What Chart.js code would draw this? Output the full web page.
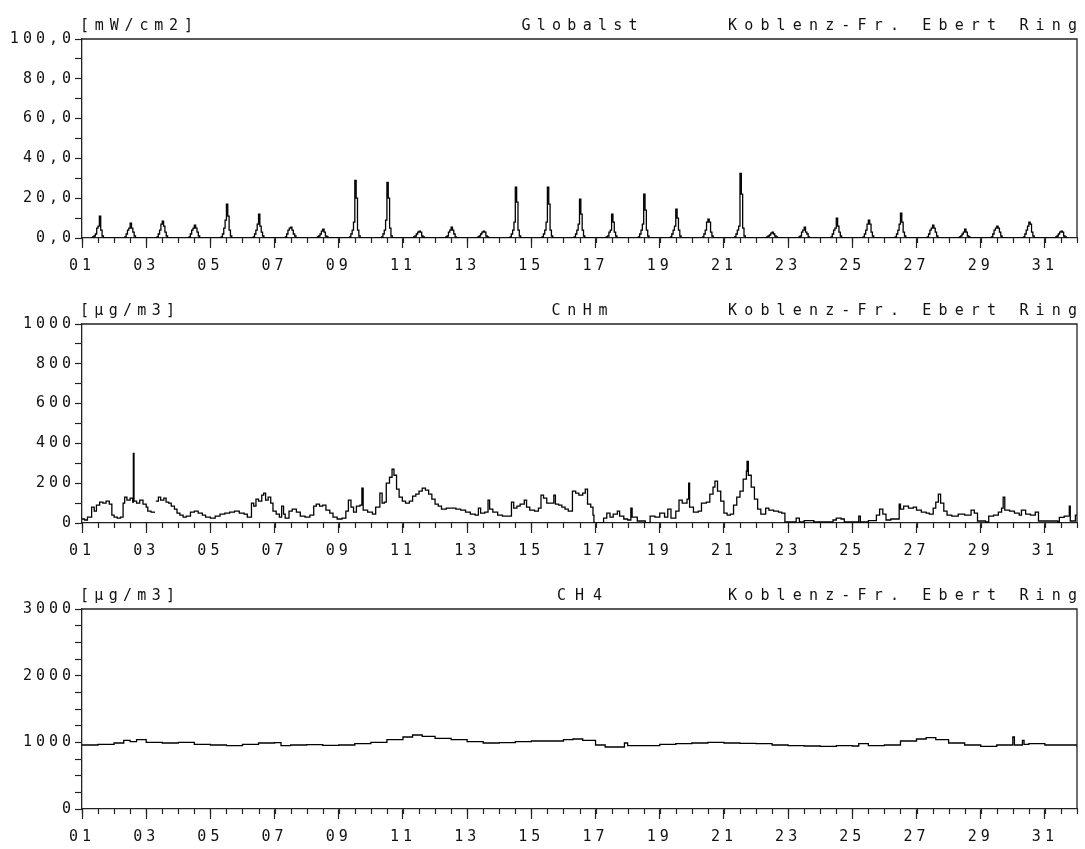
<!DOCTYPE html>
<html>
<head>
<meta charset="utf-8">
<script src="https://cdn.jsdelivr.net/npm/chart.js@4.4.1/dist/chart.umd.min.js"></script>
<style>
  html, body { margin: 0; padding: 0; background: #fff; overflow: hidden; }
  .wrap { position: absolute; left: 0; width: 1085px; }
  canvas { display: block; }
</style>
</head>
<body>
<div class="wrap" style="top:0"><canvas id="c1" width="1085" height="285"></canvas></div>
<div class="wrap" style="top:285px"><canvas id="c2" width="1085" height="285"></canvas></div>
<div class="wrap" style="top:570px"><canvas id="c3" width="1085" height="279"></canvas></div>
<script>
// ---------------- DATA ----------------
const station = 'Koblenz-Fr. Ebert Ring';
const componentNames = ['Globalst', 'CnHm', 'CH4'];
const unitLabels = ['[mW/cm2]', '[µg/m3]', '[µg/m3]'];

const xTickDays = [1, 3, 5, 7, 9, 11, 13, 15, 17, 19, 21, 23, 25, 27, 29, 31];
const xTickLabels = ['01','03','05','07','09','11','13','15','17','19','21','23','25','27','29','31'];

const yTicksGlobal = [0, 20, 40, 60, 80, 100];
const yLabelsGlobal = ['0,0', '20,0', '40,0', '60,0', '80,0', '100,0'];
const yTicksCnhm = [0, 200, 400, 600, 800, 1000];
const yLabelsCnhm = ['0', '200', '400', '600', '800', '1000'];
const yTicksCh4 = [0, 1000, 2000, 3000];
const yLabelsCh4 = ['0', '1000', '2000', '3000'];

// Global radiation, hourly values from 07 h to 17 h, one row per day (01..31)
const globalHours = [7, 8, 9, 10, 11, 12, 13, 14, 15, 16, 17];
const globalst = [
  [0,0.5,1,2,5,6,11,4,1,0,0],
  [0,0.5,2,4,5,7.5,5,3,1,0,0],
  [0,0.5,2,4,7,8.5,6,3,1,0,0],
  [0,0.5,2,4,5,6.5,5,3,1,0,0],
  [0,0.5,2,5,9,17,11,4,1,0,0],
  [0,0.5,2,4,7,12,6,3,1,0,0],
  [0,0.5,2,4,5,5.5,4,2,1,0,0],
  [0,0.5,1,2,3.5,4.5,3,1,0.5,0,0],
  [0,0.5,2,4,8,29,20,4,1,0,0],
  [0,0.5,2,4,9,28,20,5,1,0,0],
  [0,0.5,1,2,3,3.5,3,1,0.5,0,0],
  [0,0.5,1,3,4,5.5,4,2,0.5,0,0],
  [0,0.5,1,2,3,3.5,3,1,0.5,0,0],
  [0,0.5,2,4,8,25.5,18,4,1,0,0],
  [0,0.5,2,4,8,25.5,17,4,1,0,0],
  [0,0.5,2,4,7,19.5,12,4,1,0,0],
  [0,0.5,1,3,4,12,8,3,1,0,0],
  [0,0.5,2,4,7,22,14,4,1,0,0],
  [0,0.5,2,4,6,14.5,10,4,1,0,0],
  [0,0.5,2,4,8,9.5,8,3,1,0,0],
  [0,0.5,2,4,6,32.5,22,5,1,0,0],
  [0,0.5,1,1.5,2.5,3,2,1,0.5,0,0],
  [0,0.5,1,3,4,5.5,3,2,0.5,0,0],
  [0,0.5,2,4,5,10,6,3,1,0,0],
  [0,0.5,2,4,7,9,7,3,1,0,0],
  [0,0.5,2,4,7,12.5,8,3,1,0,0],
  [0,0.5,2,4,5,6.5,5,3,1,0,0],
  [0,0.5,1,2,3,4.5,3,1,0.5,0,0],
  [0,0.5,2,4,5,6,5,3,1,0,0],
  [0,0.5,2,4,6,8,7,3,1,0,0],
  [0,0.5,1,2,3,3.5,3,1,0.5,0,0]
];

// CnHm: time (day of month, fractional) and value (µg/m3), value holds until next time
const cnhmDay = [
  1.00,1.08,1.17,1.30,1.38,1.45,1.55,1.65,1.75,1.85,1.93,
  2.00,2.10,2.20,2.28,2.33,2.40,2.50,2.58,2.60,2.62,2.70,2.80,2.90,
  3.00,3.05,3.15,3.25,3.28,3.30,3.38,3.45,3.55,3.62,3.70,3.78,3.88,3.96,
  4.05,4.15,4.25,4.38,4.50,4.62,4.75,4.85,
  5.00,5.15,5.30,5.45,5.60,5.75,5.90,
  6.05,6.15,6.28,6.35,6.42,6.50,6.60,6.66,6.72,6.80,6.88,6.95,
  7.05,7.15,7.22,7.28,7.33,7.45,7.55,7.68,7.80,7.95,
  8.10,8.22,8.30,8.40,8.50,8.60,8.72,8.82,8.95,
  9.10,9.22,9.30,9.38,9.46,9.55,9.66,9.72,9.76,9.90,
  10.05,10.15,10.28,10.35,10.42,10.48,10.58,10.66,10.72,10.80,10.88,10.98,
  11.08,11.20,11.30,11.40,11.50,11.60,11.70,11.80,11.90,
  12.00,12.10,12.20,12.35,12.50,12.65,12.80,12.95,
  13.10,13.25,13.35,13.42,13.55,13.65,13.70,13.80,13.95,
  14.10,14.30,14.38,14.45,14.55,14.65,14.78,14.85,14.95,
  15.10,15.22,15.30,15.38,15.48,15.60,15.70,15.75,15.85,15.95,
  16.05,16.15,16.28,16.38,16.48,16.60,16.68,16.75,16.85,16.92,16.95,
  17.25,17.35,17.45,17.55,17.68,17.75,17.88,
  18.00,18.10,18.14,18.30,18.55,18.70,18.85,
  19.00,19.15,19.25,19.35,19.50,19.60,19.70,19.85,19.90,19.93,
  20.05,20.20,20.30,20.45,20.56,20.66,20.72,20.80,20.90,
  21.00,21.10,21.20,21.30,21.40,21.50,21.60,21.70,21.72,21.76,21.85,21.95,
  22.05,22.15,22.30,22.40,22.55,22.70,22.80,22.90,
  23.25,23.35,23.50,23.80,
  24.40,24.50,24.65,24.75,
  25.20,25.25,25.50,25.75,25.85,25.95,
  26.05,26.20,26.40,26.46,26.50,26.60,26.75,26.90,
  27.00,27.15,27.30,27.40,27.52,27.60,27.68,27.75,27.85,27.95,
  28.10,28.30,28.50,28.70,28.80,28.90,
  29.15,29.25,29.40,29.55,29.65,29.70,29.75,29.90,
  30.05,30.20,30.27,30.40,30.55,30.70,30.80,
  31.40,31.45,31.60,31.76,31.79,31.95,32.00
];
const cnhmValue = [
  20,15,30,80,60,90,105,100,110,95,40,
  30,25,30,100,130,115,125,105,350,110,100,115,95,
  80,60,55,50,null,110,130,115,125,105,100,85,70,50,
  40,30,35,55,60,50,40,30,
  25,35,45,50,55,60,50,
  45,30,100,85,120,110,140,150,115,130,100,60,
  45,30,85,45,25,60,70,55,35,30,
  40,85,95,85,90,65,50,30,20,
  25,60,115,80,55,85,90,175,65,55,
  45,80,150,100,105,200,230,270,240,170,130,110,
  100,110,135,145,160,175,165,145,120,
  95,85,70,75,75,70,65,55,
  45,40,75,50,55,115,70,55,40,
  35,35,105,75,85,95,115,80,65,
  60,75,140,125,100,100,140,95,90,80,
  70,60,160,150,140,150,170,95,80,40,0,
  25,50,30,45,60,35,20,
  15,75,30,10,0,35,30,
  50,30,70,25,60,115,100,120,200,80,
  55,60,100,105,145,180,210,160,110,
  50,40,45,90,130,160,220,260,310,240,180,120,
  70,45,75,65,60,55,50,5,
  25,5,12,5,
  15,25,20,5,
  35,5,12,40,70,45,
  15,20,20,95,70,85,75,80,
  65,55,50,45,75,105,145,100,60,40,
  35,45,40,65,50,10,
  5,35,40,55,75,130,65,60,
  50,40,65,45,40,55,10,
  5,28,35,85,10,40,40
];

// CH4: time (day of month) and value (µg/m3)
const ch4Day = [
  1.0,1.5,2.0,2.3,2.5,2.7,3.0,3.5,4.0,4.5,5.0,5.5,6.0,6.5,7.0,7.2,7.5,8.0,8.5,9.0,9.5,
  10.0,10.5,11.0,11.3,11.6,12.0,12.5,13.0,13.5,14.0,14.5,15.0,15.5,16.0,16.3,16.6,
  17.0,17.3,17.7,17.9,18.0,18.5,19.0,19.5,20.0,20.5,21.0,21.5,22.0,22.5,23.0,23.5,
  24.0,24.5,25.0,25.2,25.5,26.0,26.5,27.0,27.3,27.6,28.0,28.5,29.0,29.5,29.9,30.0,
  30.05,30.3,30.35,30.5,31.0,31.5,32.0
];
const ch4Value = [
  960,970,990,1030,1010,1040,1000,990,1000,970,960,950,970,990,995,950,960,965,955,960,980,
  1000,1040,1080,1110,1090,1060,1040,1010,990,995,1010,1020,1020,1040,1050,1030,
  960,930,930,990,950,950,970,980,990,1000,990,985,980,960,950,945,
  940,950,945,980,950,960,1020,1050,1070,1040,990,960,940,960,960,1080,
  960,1030,970,980,960,960,930
];

// ---------------- BUILD ----------------
const globalPoints = [];
globalst.forEach((row, d) => {
  row.forEach((v, k) => globalPoints.push({ x: d + 1 + globalHours[k] / 24, y: v }));
});
const cnhmPoints = cnhmDay.map((d, i) => ({ x: d, y: cnhmValue[i] }));
const ch4Points = ch4Day.map((d, i) => ({ x: d, y: ch4Value[i] }));

const FONT = 'DejaVu Sans Mono';
const INK = '#111';

const framePlugin = {
  id: 'frame',
  beforeDraw(chart) {
    chart.ctx.letterSpacing = '4px';
  },
  afterDraw(chart, args, opts) {
    const { ctx, chartArea: a } = chart;
    ctx.save();
    ctx.letterSpacing = '0px';
    // frame
    ctx.strokeStyle = '#222';
    ctx.lineWidth = 1.3;
    ctx.beginPath();
    ctx.moveTo(a.left, a.top);
    ctx.lineTo(a.right, a.top);
    ctx.lineTo(a.right, a.bottom);
    ctx.stroke();
    // minor x ticks (every half day)
    const xs = chart.scales.x;
    ctx.lineWidth = 1.2;
    ctx.beginPath();
    for (let v = xs.min; v <= xs.max + 1e-9; v += 0.5) {
      const px = Math.round(xs.getPixelForValue(v)) + 0.5;
      ctx.moveTo(px, a.bottom);
      ctx.lineTo(px, a.bottom + 5);
    }
    ctx.stroke();
    // header texts
    ctx.fillStyle = INK;
    ctx.font = '15px "' + FONT + '"';
    ctx.textBaseline = 'alphabetic';
    ctx.textAlign = 'left';
    const y = a.top - 9;
    const drawSpaced = (text, x0, width) => {
      ctx.letterSpacing = '0px';
      const w0 = ctx.measureText(text).width;
      const sp = (width - w0) / (text.length - 1);
      let x = x0;
      for (const ch of text) {
        ctx.fillText(ch, x, y);
        x += ctx.measureText(ch).width + sp;
      }
    };
    drawSpaced(opts.unit, a.left - 2, opts.unitWidth);
    drawSpaced(opts.name, (a.left + a.right) / 2 - opts.nameWidth / 2, opts.nameWidth);
    drawSpaced(station, a.right - 349, 349);
    ctx.restore();
  }
};

function makeChart(id, points, yTicks, yLabels, yMinor, ymax, xH, idx, unitW, nameW) {
  const canvas = document.getElementById(id);
  return new Chart(canvas, {
    type: 'line',
    data: {
      datasets: [{
        data: points,
        borderColor: '#000',
        borderWidth: 1.3,
        pointRadius: 0,
        stepped: true,
        spanGaps: false,
        fill: false
      }]
    },
    options: {
      responsive: false,
      animation: false,
      events: [],
      layout: { padding: { left: 0, right: 8, top: 39, bottom: 0 } },
      plugins: {
        legend: { display: false },
        tooltip: { enabled: false },
        title: { display: false },
        frame: { unit: unitLabels[idx], name: componentNames[idx], unitWidth: unitW, nameWidth: nameW }
      },
      scales: {
        x: {
          type: 'linear',
          min: 1,
          max: 32,
          afterFit: s => { s.height = xH; },
          afterBuildTicks: s => { s.ticks = xTickDays.map(v => ({ value: v })); },
          ticks: {
            callback: (v) => { const i = xTickDays.indexOf(v); return i >= 0 ? xTickLabels[i] : ''; },
            font: { family: FONT, size: 15 },
            color: INK,
            padding: 9,
            maxRotation: 0,
            autoSkip: false
          },
          grid: { drawOnChartArea: false, drawTicks: true, tickLength: 10, color: '#222', tickWidth: 1.2 },
          border: { display: true, color: '#222', width: 1.3 }
        },
        y: {
          type: 'linear',
          min: 0,
          max: ymax,
          afterFit: s => { s.width = 82; },
          afterBuildTicks: s => {
            const t = [];
            for (let v = 0; v <= ymax + 1e-9; v += yMinor) t.push({ value: v });
            s.ticks = t;
          },
          ticks: {
            callback: (v) => { const i = yTicks.indexOf(v); return i >= 0 ? yLabels[i] : ''; },
            font: { family: FONT, size: 15 },
            color: INK,
            padding: 0,
            autoSkip: false
          },
          grid: { drawOnChartArea: false, drawTicks: true, tickLength: 7, color: '#222', tickWidth: 1.2 },
          border: { display: true, color: '#222', width: 1.3 }
        }
      }
    },
    plugins: [framePlugin]
  });
}

makeChart('c1', globalPoints, yTicksGlobal, yLabelsGlobal, 10, 100, 47, 0, 113, 116);
makeChart('c2', cnhmPoints, yTicksCnhm, yLabelsCnhm, 100, 1000, 47, 1, 95, 56);
makeChart('c3', ch4Points, yTicksCh4, yLabelsCh4, 250, 3000, 40, 2, 95, 45);
</script>
</body>
</html>
